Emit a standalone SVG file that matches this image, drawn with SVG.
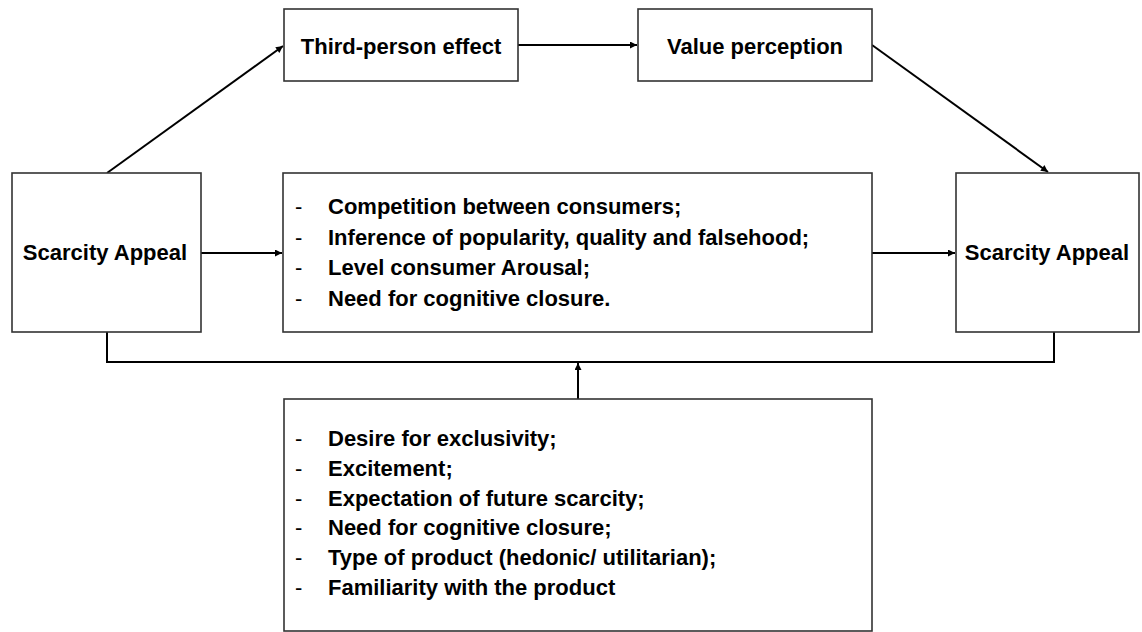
<svg xmlns="http://www.w3.org/2000/svg" width="1142" height="632" viewBox="0 0 1142 632">
<style>
.box{fill:#fff;stroke:#333;stroke-width:1.6}
.t{font-family:"Liberation Sans",Arial,sans-serif;font-weight:bold;font-size:22px;fill:#000}
.c{text-anchor:middle}
.ln{fill:none;stroke:#000;stroke-width:2}
.d{font-family:"Liberation Sans",Arial,sans-serif;font-size:22px;fill:#000}
</style>
<defs>
<marker id="ah" viewBox="0 0 10 10" refX="10" refY="5" markerWidth="9" markerHeight="7" markerUnits="userSpaceOnUse" orient="auto">
<path d="M0,0 L10,5 L0,10 z" fill="#000"/>
</marker>
</defs>
<rect width="1142" height="632" fill="#fff"/>
<g id="connectors">
<line class="ln" x1="107" y1="173" x2="283" y2="46" marker-end="url(#ah)"/>
<line class="ln" x1="518" y1="45" x2="637" y2="45" marker-end="url(#ah)"/>
<line class="ln" x1="872" y1="45" x2="1048" y2="172" marker-end="url(#ah)"/>
<line class="ln" x1="201" y1="253" x2="282" y2="253" marker-end="url(#ah)"/>
<line class="ln" x1="872" y1="253" x2="955" y2="253" marker-end="url(#ah)"/>
<polyline class="ln" points="107,332 107,362 1054,362 1054,332"/>
<line class="ln" x1="578" y1="399" x2="578" y2="363" marker-end="url(#ah)"/>
</g>
<g id="third-person">
<rect class="box" x="284" y="9" width="234" height="72"/>
<text class="t c" x="401" y="54">Third-person effect</text>
</g>
<g id="value-perception">
<rect class="box" x="638" y="9" width="234" height="72"/>
<text class="t c" x="755" y="54">Value perception</text>
</g>
<g id="scarcity-left">
<rect class="box" x="12" y="173" width="189" height="159"/>
<text class="t c" x="105" y="260">Scarcity Appeal</text>
</g>
<g id="scarcity-right">
<rect class="box" x="956" y="173" width="183" height="159"/>
<text class="t c" x="1047" y="260">Scarcity Appeal</text>
</g>
<g id="mediators">
<rect class="box" x="283" y="173" width="589" height="159"/>
<g class="d"><text x="295" y="214">-</text><text x="295" y="244.5">-</text><text x="295" y="275">-</text><text x="295" y="305.5">-</text></g>
<text class="t" x="328" y="214">Competition between consumers;</text>
<text class="t" x="328" y="244.5">Inference of popularity, quality and falsehood;</text>
<text class="t" x="328" y="275">Level consumer Arousal;</text>
<text class="t" x="328" y="305.5">Need for cognitive closure.</text>
</g>
<g id="moderators">
<rect class="box" x="284" y="399" width="588" height="232"/>
<g class="d"><text x="295" y="446">-</text><text x="295" y="476">-</text><text x="295" y="505.5">-</text><text x="295" y="535">-</text><text x="295" y="565">-</text><text x="295" y="594.5">-</text></g>
<text class="t" x="328" y="446">Desire for exclusivity;</text>
<text class="t" x="328" y="476">Excitement;</text>
<text class="t" x="328" y="505.5">Expectation of future scarcity;</text>
<text class="t" x="328" y="535">Need for cognitive closure;</text>
<text class="t" x="328" y="565">Type of product (hedonic/ utilitarian);</text>
<text class="t" x="328" y="594.5">Familiarity with the product</text>
</g>
</svg>
